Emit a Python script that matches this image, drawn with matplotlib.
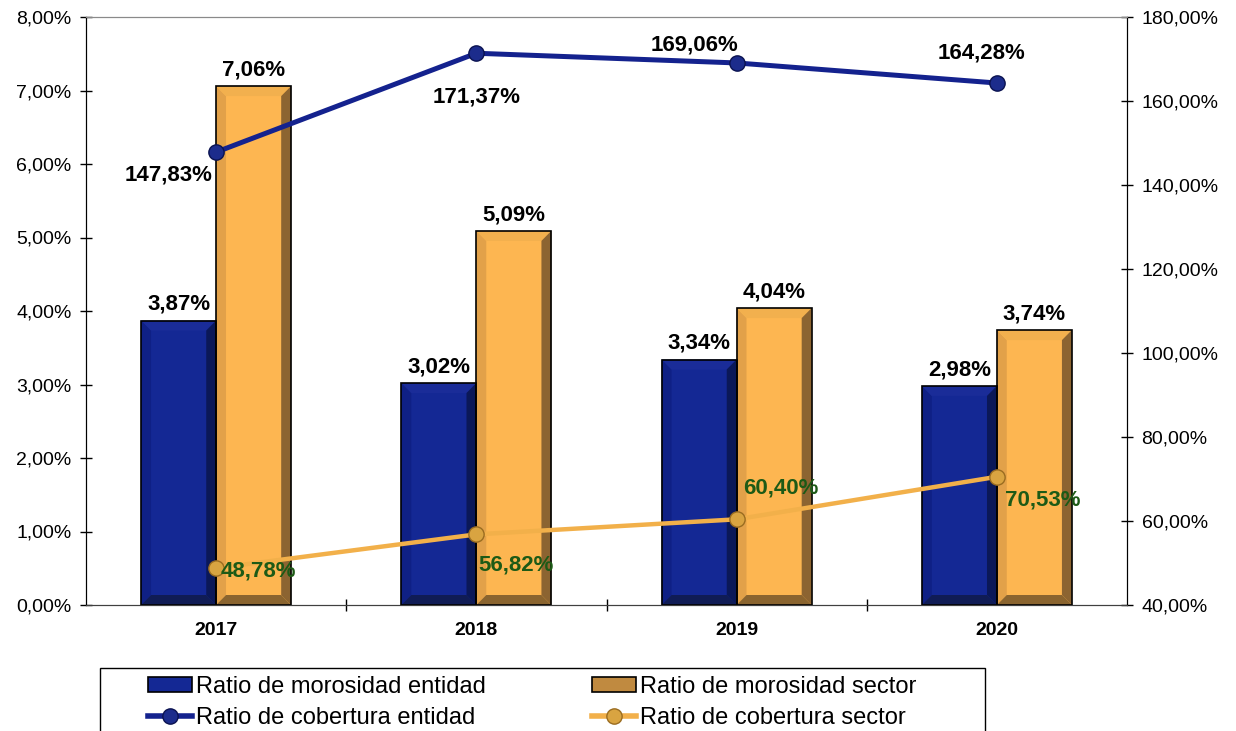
import matplotlib.pyplot as plt
from matplotlib.patches import Polygon, Rectangle
from matplotlib.lines import Line2D
from matplotlib.ticker import FuncFormatter, FixedLocator
import numpy as np

plt.rcParams['font.family'] = ['Liberation Sans', 'DejaVu Sans']

# data
years = ['2017', '2018', '2019', '2020']
moros_entidad = [3.87, 3.02, 3.34, 2.98]
moros_sector = [7.06, 5.09, 4.04, 3.74]
cobert_entidad = [147.83, 171.37, 169.06, 164.28]
cobert_sector = [48.78, 56.82, 60.40, 70.53]

def pct(v):
    return f"{v:.2f}".replace('.', ',') + '%'

fig = plt.figure(figsize=(12.36, 7.31), dpi=100)
ax = fig.add_axes([86/1236, 1-605/731, (1127-86)/1236, (605-17)/731])
ax2 = ax.twinx()

x = np.arange(len(years))
bw = 0.288

def bevel_bar(axis, xc, h, w, face, left, top, right, bottom):
    x0, x1 = xc - w/2, xc + w/2
    dx, dy = 0.038, 0.136
    if h < 2*dy:
        dy = h/3
    y0, y1 = 0, h
    polys = [
        ([(x0, y0), (x0+dx, y0+dy), (x0+dx, y1-dy), (x0, y1)], left),
        ([(x0, y1), (x0+dx, y1-dy), (x1-dx, y1-dy), (x1, y1)], top),
        ([(x1, y0), (x1-dx, y0+dy), (x1-dx, y1-dy), (x1, y1)], right),
        ([(x0, y0), (x0+dx, y0+dy), (x1-dx, y0+dy), (x1, y0)], bottom),
    ]
    axis.bar(xc, h, w, color=face, edgecolor='none', zorder=2)
    for pts, c in polys:
        axis.add_patch(Polygon(pts, closed=True, facecolor=c, edgecolor='none', zorder=3))
    axis.bar(xc, h, w, color='none', edgecolor='black', linewidth=1.2, zorder=4)

blue = dict(face='#142894', left='#0f2085', top='#1a2c98', right='#0b1858', bottom='#101c55')
orange = dict(face='#fdb651', left='#e2a149', top='#f2b04e', right='#8c6431', bottom='#8a642f')

for i in range(len(years)):
    bevel_bar(ax, x[i] - bw/2, moros_entidad[i], bw, **blue)
    bevel_bar(ax, x[i] + bw/2, moros_sector[i], bw, **orange)
    ax.annotate(pct(moros_entidad[i]), (x[i] - bw/2, moros_entidad[i]), xytext=(0, 4),
                textcoords='offset points', ha='center', va='bottom',
                fontsize=16, fontweight='bold', zorder=6)
    ax.annotate(pct(moros_sector[i]), (x[i] + bw/2, moros_sector[i]), xytext=(0, 4),
                textcoords='offset points', ha='center', va='bottom',
                fontsize=16, fontweight='bold', zorder=6)

ax.set_xlim(-0.5, 3.5)
ax.set_ylim(0, 8)
ax.yaxis.set_major_locator(FixedLocator(np.arange(0, 8.01, 1)))
ax.yaxis.set_major_formatter(FuncFormatter(lambda v, p: f"{v:.2f}".replace('.', ',') + '%'))
ax.set_xticks(x)
ax.set_xticklabels(years, fontsize=14, fontweight='bold')
ax.set_xticks([0.5, 1.5, 2.5], minor=True)
ax.tick_params(axis='x', which='major', length=0, pad=12)
ax.tick_params(axis='x', which='minor', direction='inout', length=9, width=1)
ax.tick_params(axis='y', direction='inout', length=9, width=1, labelsize=14, pad=6)

# coverage lines
ax2.plot(x, cobert_entidad, color='#14228e', lw=3.6, marker='o', markersize=11,
         markerfacecolor='#1c2c8c', markeredgecolor='#0a1250', markeredgewidth=1, zorder=5)
ax2.plot(x, cobert_sector, color='#f2b04a', lw=3.2, marker='o', markersize=11,
         markerfacecolor='#d9a441', markeredgecolor='#9a6c20', markeredgewidth=1, zorder=5)
ax2.set_ylim(40, 180)
ax2.yaxis.set_major_locator(FixedLocator(np.arange(40, 180.1, 20)))
ax2.yaxis.set_major_formatter(FuncFormatter(lambda v, p: f"{v:.2f}".replace('.', ',') + '%'))
ax2.tick_params(axis='y', direction='inout', length=9, width=1, labelsize=14, pad=6)

ent_off = [(-48, -23), (0, -44), (-42, 18), (-15, 30)]
for i, v in enumerate(cobert_entidad):
    ax2.annotate(pct(v), (x[i], v), xytext=(ent_off[i][0]*0.72, ent_off[i][1]*0.72),
                 textcoords='offset points', ha='center', va='center',
                 fontsize=16, fontweight='bold', zorder=6)
sec_off = [(42, -3), (40, -31), (44, 31), (46, -23)]
for i, v in enumerate(cobert_sector):
    ax2.annotate(pct(v), (x[i], v), xytext=(sec_off[i][0]*0.72, sec_off[i][1]*0.72),
                 textcoords='offset points', ha='center', va='center',
                 fontsize=16, fontweight='bold', color='#1d5a16', zorder=6)

for a in (ax, ax2):
    a.spines['top'].set_color('#8a8a8a')
    a.spines['bottom'].set_color('#404040')
    a.spines['left'].set_color('black')
    a.spines['right'].set_color('black')

# legend
fig.patches.append(Rectangle((100/1236, -0.05), 885/1236, (731-668)/731 + 0.05,
                             transform=fig.transFigure, fill=False,
                             edgecolor='black', linewidth=1))
handles = [
    Rectangle((0, 0), 1, 1, facecolor='#142894', edgecolor='black', linewidth=1.2),
    Line2D([], [], color='#14228e', lw=4, marker='o', markersize=11,
           markerfacecolor='#1c2c8c', markeredgecolor='#0a1250'),
    Rectangle((0, 0), 1, 1, facecolor='#c08a40', edgecolor='black', linewidth=1.2),
    Line2D([], [], color='#f2b04a', lw=4, marker='o', markersize=11,
           markerfacecolor='#d9a441', markeredgecolor='#9a6c20'),
]
labels = ['Ratio de morosidad entidad', 'Ratio de cobertura entidad',
          'Ratio de morosidad sector', 'Ratio de cobertura sector']
fig.legend(handles, labels, loc='upper left', bbox_to_anchor=(148/1236, 1-676/731),
           ncol=2, frameon=False, fontsize=17, borderpad=0, borderaxespad=0,
           handlelength=1.86, handleheight=0.6, handletextpad=0.17,
           columnspacing=4.5, labelspacing=0.38)

fig.savefig('out.png', dpi=100)
